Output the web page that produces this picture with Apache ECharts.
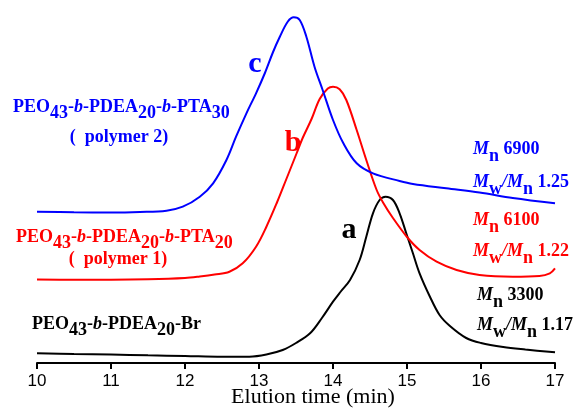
<!DOCTYPE html>
<html>
<head>
<meta charset="utf-8">
<script src="https://cdn.jsdelivr.net/npm/echarts@6/dist/echarts.min.js"></script>
<style>
html,body{margin:0;padding:0;background:#fff;}
#chart{width:577px;height:408px;}
</style>
</head>
<body>
<div id="chart"></div>
<script>
// Elution time (min) and detector signal (arbitrary units)
const xTicks = [10, 11, 12, 13, 14, 15, 16, 17];

const timeA = [10.0,10.5,11.0,11.5,12.0,12.5,12.87,13.1,13.32,13.5,13.69,13.85,14.0,14.1,14.23,14.36,14.45,14.54,14.63,14.71,14.81,14.9,14.99,15.08,15.17,15.31,15.44,15.58,15.8,16.0,16.3,16.6,17.0];
const signalA = [9.7,9,8.5,7.7,7,6.2,6.3,8.5,13,20,29.7,45,61.3,71,83,103,126.3,149.7,163,166.3,163,149.7,129.7,109.7,89.7,66.3,48,37,25,20,16,13.5,10.7];

const timeB = [10.0,10.5,11.0,11.5,12.0,12.2,12.4,12.6,12.78,12.96,13.10,13.24,13.37,13.51,13.59,13.71,13.82,13.93,14.0,14.09,14.18,14.32,14.45,14.59,14.68,14.81,15.0,15.17,15.4,15.67,15.98,16.43,16.79,16.93,17.0];
const signalB = [83.5,83.3,83.3,83.7,85,86.5,88.5,91.3,99.7,116.3,136.3,160,184,210,225,244,264,274.5,276.3,273.7,263,233,203,173,160,145,126,113,101.3,93,88,86.3,87,89.7,94.7];

const timeC = [10.0,10.5,11.0,11.39,11.75,11.97,12.2,12.38,12.56,12.69,12.83,12.96,13.08,13.19,13.28,13.39,13.47,13.55,13.64,13.75,13.86,14.0,14.14,14.32,14.54,14.9,15.08,15.53,15.98,16.43,17.0];
const signalC = [151.3,150.8,150.5,151,152.3,156.3,166.3,179.7,203,226.3,249.7,269.7,290,311,326,341.5,345.7,343,326.3,296.3,273,243,219.7,199.7,189.7,182,179,174.7,170.5,165,159.7];

const seriesNames = ['a', 'b', 'c'];
const seriesColors = ['#000000', '#FF0000', '#0000FF'];

function pairs(t, v) { return t.map((x, i) => [x, v[i]]); }

const SERIF = '"Liberation Serif", "Times New Roman", serif';

function richFor(color, size, subShift) {
  const base = { fill: color, fontFamily: SERIF, fontWeight: 'bold', fontSize: size, lineHeight: size + 2 };
  return {
    t: Object.assign({}, base),
    i: Object.assign({}, base, { fontStyle: 'italic' }),
    s: Object.assign({}, base, { padding: [subShift * 2, 0, 0, 0] })
  };
}

function label(x, y, text, color, size, subShift, align) {
  return {
    type: 'text', x: x, y: y, silent: true,
    style: {
      text: text, fill: color, fontFamily: SERIF, fontWeight: 'bold', fontSize: size,
      align: align || 'left', verticalAlign: 'middle',
      textAlign: align || 'left', textVerticalAlign: 'middle',
      rich: richFor(color, size, subShift)
    }
  };
}

function big(x, y, text, color) {
  return {
    type: 'text', x: x, y: y, silent: true,
    style: {
      text: text, fill: color, fontFamily: SERIF, fontWeight: 'bold', fontSize: 30,
      align: 'center', verticalAlign: 'middle', textAlign: 'center', textVerticalAlign: 'middle'
    }
  };
}

function lineSeries(i, t, v) {
  return {
    name: seriesNames[i], type: 'line', data: pairs(t, v), showSymbol: false,
    smooth: 0.35,
    lineStyle: { color: seriesColors[i], width: 2 }, itemStyle: { color: seriesColors[i] }
  };
}

const chart = echarts.init(document.getElementById('chart'), null, { renderer: 'canvas' });

const option = {
  animation: false,
  backgroundColor: '#ffffff',
  grid: { left: 37, right: 22, top: 0, bottom: 45, containLabel: false },
  xAxis: {
    type: 'value', min: xTicks[0], max: xTicks[xTicks.length - 1], interval: 1,
    axisLine: { show: true, lineStyle: { color: '#000', width: 2 } },
    axisTick: { show: true, inside: false, length: 6, lineStyle: { color: '#000', width: 2 } },
    axisLabel: { color: '#000', fontSize: 17, fontFamily: '"Liberation Sans", Arial, sans-serif', margin: 10 },
    splitLine: { show: false }
  },
  yAxis: { type: 'value', min: 0, max: 363, show: false, splitLine: { show: false } },
  series: [
    lineSeries(0, timeA, signalA),
    lineSeries(1, timeB, signalB),
    lineSeries(2, timeC, signalC)
  ],
  graphic: [
    big(255, 64, 'c', seriesColors[2]),
    big(293, 143, 'b', seriesColors[1]),
    big(349, 230, 'a', seriesColors[0]),
    label(13, 107, '{t|PEO}{s|43}{t|-}{i|b}{t|-PDEA}{s|20}{t|-}{i|b}{t|-PTA}{s|30}', '#0000FF', 18, 6),
    label(119, 137, '{t|(  polymer 2)}', '#0000FF', 18, 6, 'center'),
    label(16, 237, '{t|PEO}{s|43}{t|-}{i|b}{t|-PDEA}{s|20}{t|-}{i|b}{t|-PTA}{s|20}', '#FF0000', 18, 6),
    label(118, 259, '{t|(  polymer 1)}', '#FF0000', 18, 6, 'center'),
    label(32, 324, '{t|PEO}{s|43}{t|-}{i|b}{t|-PDEA}{s|20}{t|-Br}', '#000000', 18, 6),
    label(473, 149.5, '{i|M}{s|n}{t| 6900}', '#0000FF', 18, 7),
    label(473, 182, '{i|M}{s|w}{i|/M}{s|n}{t| 1.25}', '#0000FF', 18, 7),
    label(473, 220, '{i|M}{s|n}{t| 6100}', '#FF0000', 18, 7),
    label(473, 251, '{i|M}{s|w}{i|/M}{s|n}{t| 1.22}', '#FF0000', 18, 7),
    label(477, 295, '{i|M}{s|n}{t| 3300}', '#000000', 18, 7),
    label(477, 325, '{i|M}{s|w}{i|/M}{s|n}{t| 1.17}', '#000000', 18, 7),
    {
      type: 'text', x: 313, y: 397, silent: true,
      style: { text: 'Elution time (min)', fill: '#000', fontFamily: SERIF, fontSize: 22,
        align: 'center', verticalAlign: 'middle', textAlign: 'center', textVerticalAlign: 'middle' }
    }
  ]
};
chart.setOption(option);
</script>
</body>
</html>
